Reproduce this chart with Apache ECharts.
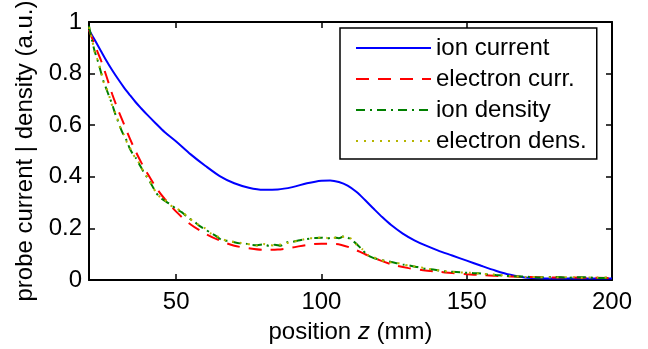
<!DOCTYPE html>
<html>
<head>
<meta charset="utf-8">
<script src="https://cdn.jsdelivr.net/npm/echarts@6/dist/echarts.min.js"></script>
<style>
  html, body { margin: 0; padding: 0; background: #fff; }
  #chart { width: 648px; height: 349px; }
</style>
</head>
<body>
<div id="chart"></div>
<script>
// tick values
const xTicks = [50, 100, 150, 200]

// ion current (solid blue)
const xIonCurr = [20, 22, 24, 26, 28, 30, 32, 34, 36, 38, 40, 43, 46, 50, 55, 60, 65, 70, 75, 80, 85, 90, 95, 100, 103, 106, 109, 112, 115, 118, 121, 124, 128, 132, 136, 140, 145, 150, 155, 160, 165, 170, 180, 190, 200]
const ionCurr = [0.97, 0.93, 0.89, 0.85, 0.813, 0.779, 0.747, 0.718, 0.69, 0.665, 0.641, 0.607, 0.574, 0.537, 0.487, 0.443, 0.403, 0.375, 0.358, 0.35, 0.351, 0.36, 0.375, 0.385, 0.386, 0.38, 0.366, 0.342, 0.31, 0.276, 0.243, 0.213, 0.18, 0.154, 0.133, 0.115, 0.095, 0.075, 0.055, 0.036, 0.02, 0.01, 0.006, 0.006, 0.006]

// electron current (dashed red)
const xElecCurr = [20, 22, 24, 26, 28, 30, 32, 34, 36, 38, 40, 43, 46, 50, 55, 60, 65, 70, 75, 80, 85, 90, 95, 100, 105, 110, 115, 120, 125, 130, 135, 140, 145, 150, 155, 160, 170, 180, 190, 200]
const elecCurr = [0.97, 0.91, 0.855, 0.79, 0.72, 0.66, 0.605, 0.55, 0.5, 0.455, 0.415, 0.36, 0.315, 0.265, 0.215, 0.18, 0.153, 0.133, 0.123, 0.117, 0.118, 0.126, 0.136, 0.141, 0.14, 0.125, 0.1, 0.077, 0.058, 0.046, 0.038, 0.032, 0.027, 0.022, 0.019, 0.016, 0.012, 0.01, 0.009, 0.008]

// ion density (dash-dot green)
const xIonDens = [20, 21, 22, 23, 24, 25, 26, 27, 28, 29, 30, 31, 32, 33, 34, 35, 36, 37, 38, 39, 40, 41, 42, 43, 44, 45, 46, 47, 48, 50, 52, 54, 56, 58, 60, 62, 64, 66, 68, 70, 72, 74, 76, 78, 80, 82, 84, 86, 88, 90, 92, 94, 96, 98, 100, 102, 104, 106, 108, 110, 112, 114, 116, 118, 120, 122, 124, 126, 128, 130, 133, 136, 139, 142, 145, 148, 151, 154, 157, 160, 165, 170, 175, 180, 185, 190, 195, 200]
const ionDens = [0.985, 0.93, 0.885, 0.85, 0.81, 0.77, 0.74, 0.71, 0.68, 0.645, 0.615, 0.585, 0.56, 0.54, 0.51, 0.49, 0.475, 0.455, 0.435, 0.415, 0.398, 0.38, 0.36, 0.34, 0.325, 0.315, 0.308, 0.3, 0.294, 0.275, 0.262, 0.242, 0.228, 0.21, 0.196, 0.182, 0.168, 0.153, 0.152, 0.146, 0.142, 0.141, 0.136, 0.135, 0.138, 0.132, 0.137, 0.133, 0.146, 0.148, 0.153, 0.157, 0.16, 0.163, 0.164, 0.161, 0.165, 0.162, 0.171, 0.158, 0.141, 0.118, 0.095, 0.085, 0.079, 0.074, 0.07, 0.065, 0.06, 0.057, 0.05, 0.043, 0.04, 0.034, 0.032, 0.03, 0.027, 0.026, 0.022, 0.019, 0.015, 0.013, 0.01, 0.012, 0.009, 0.011, 0.008, 0.01]

// electron density (dotted olive)
const xElecDens = [20, 21, 22, 23, 24, 25, 26, 27, 28, 29, 30, 31, 32, 33, 34, 35, 36, 37, 38, 39, 40, 41, 42, 43, 44, 45, 46, 47, 48, 50, 52, 54, 56, 58, 60, 62, 64, 66, 68, 70, 72, 74, 76, 78, 80, 82, 84, 86, 88, 90, 92, 94, 96, 98, 100, 102, 104, 106, 108, 110, 112, 114, 116, 118, 120, 122, 124, 126, 128, 130, 133, 136, 139, 142, 145, 148, 151, 154, 157, 160, 165, 170, 175, 180, 185, 190, 195, 200]
const elecDens = [0.98, 0.935, 0.882, 0.852, 0.815, 0.768, 0.744, 0.712, 0.675, 0.648, 0.618, 0.582, 0.563, 0.535, 0.515, 0.492, 0.472, 0.458, 0.438, 0.413, 0.4, 0.382, 0.358, 0.342, 0.328, 0.312, 0.31, 0.302, 0.29, 0.278, 0.265, 0.245, 0.226, 0.212, 0.2, 0.18, 0.17, 0.158, 0.15, 0.148, 0.144, 0.14, 0.138, 0.133, 0.14, 0.135, 0.134, 0.138, 0.143, 0.15, 0.151, 0.158, 0.162, 0.161, 0.166, 0.163, 0.163, 0.166, 0.168, 0.162, 0.138, 0.12, 0.097, 0.088, 0.08, 0.072, 0.068, 0.066, 0.061, 0.055, 0.051, 0.045, 0.039, 0.035, 0.031, 0.029, 0.028, 0.025, 0.023, 0.02, 0.016, 0.012, 0.011, 0.01, 0.011, 0.009, 0.01, 0.009]

const pairs = (xs, ys) => xs.map((x, i) => [x, ys[i]])

const font = 'Liberation Sans, Arial, sans-serif'

const chart = echarts.init(document.getElementById('chart'), null, { renderer: 'canvas' })

const frameAxis = {
  axisLine: { show: true, onZero: false, lineStyle: { color: '#000', width: 2 } },
  axisTick: { show: true, inside: true, length: 6, lineStyle: { color: '#000', width: 1.5 } },
  splitLine: { show: false }
}

chart.setOption({
  animation: false,
  textStyle: { fontFamily: font },
  grid: { left: 89, right: 36, top: 16, bottom: 64 },
  legend: {
    orient: 'vertical',
    left: 340,
    top: 28,
    padding: [8, 10, 6, 15],
    itemGap: 7,
    itemWidth: 75,
    itemHeight: 14,
    itemStyle: { opacity: 0, borderWidth: 0 },
    borderColor: '#000',
    borderWidth: 1.5,
    backgroundColor: '#fff',
    textStyle: { fontFamily: font, fontSize: 24, color: '#000' },
    data: ['ion current', 'electron curr.', 'ion density', 'electron dens.']
  },
  xAxis: [{
    type: 'value',
    min: 20,
    max: 200,
    ...frameAxis,
    axisTick: { ...frameAxis.axisTick, customValues: xTicks },
    axisLabel: { customValues: xTicks, fontFamily: font, fontSize: 24, color: '#000', margin: 10 },
    name: '{t|position }{i|z}{t| (mm)}',
    nameLocation: 'middle',
    nameGap: 40,
    nameTextStyle: {
      rich: {
        t: { fontFamily: font, fontSize: 24, color: '#000' },
        i: { fontFamily: font, fontSize: 24, color: '#000', fontStyle: 'italic' }
      }
    }
  }, {
    type: 'value',
    position: 'top',
    min: 20,
    max: 200,
    ...frameAxis,
    axisTick: { ...frameAxis.axisTick, customValues: xTicks },
    axisLabel: { show: false }
  }],
  yAxis: [{
    type: 'value',
    min: 0,
    max: 1,
    interval: 0.2,
    ...frameAxis,
    axisLabel: { fontFamily: font, fontSize: 24, color: '#000', margin: 7 },
    name: 'probe current | density (a.u.)',
    nameLocation: 'middle',
    nameGap: 51,
    nameTextStyle: { fontFamily: font, fontSize: 24, color: '#000' }
  }, {
    type: 'value',
    position: 'right',
    min: 0,
    max: 1,
    interval: 0.2,
    ...frameAxis,
    axisLabel: { show: false }
  }],
  series: [{
    name: 'ion current',
    type: 'line',
    smooth: 0.3,
    showSymbol: false,
    symbol: 'none',
    data: pairs(xIonCurr, ionCurr),
    lineStyle: { color: '#0000ff', width: 2 },
    itemStyle: { color: '#0000ff' }
  }, {
    name: 'electron curr.',
    type: 'line',
    smooth: 0.3,
    showSymbol: false,
    symbol: 'none',
    data: pairs(xElecCurr, elecCurr),
    lineStyle: { color: '#ff0000', width: 2, type: [13, 9] },
    itemStyle: { color: '#ff0000' }
  }, {
    name: 'ion density',
    type: 'line',
    smooth: 0.2,
    showSymbol: false,
    symbol: 'none',
    data: pairs(xIonDens, ionDens),
    lineStyle: { color: '#008000', width: 2, type: [9, 5, 2, 5] },
    itemStyle: { color: '#008000' }
  }, {
    name: 'electron dens.',
    type: 'line',
    smooth: 0.2,
    showSymbol: false,
    symbol: 'none',
    data: pairs(xElecDens, elecDens),
    lineStyle: { color: '#b5b500', width: 2, type: [2, 6] },
    itemStyle: { color: '#b5b500' }
  }]
})
</script>
</body>
</html>
